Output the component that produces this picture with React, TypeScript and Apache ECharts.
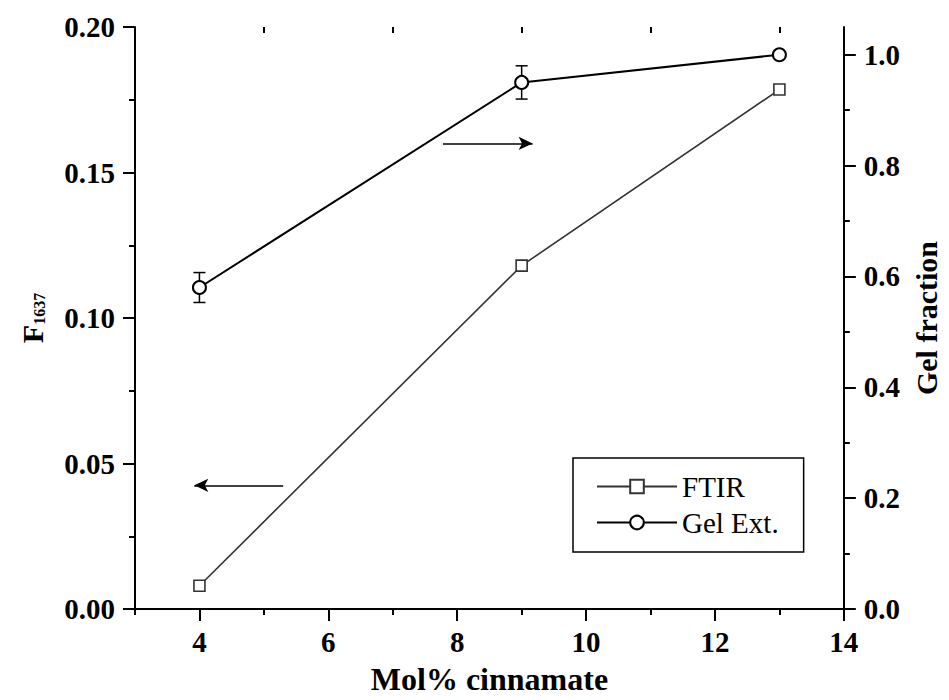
import React, { useEffect, useRef } from "react";
import * as echarts from "echarts";

const ftirX = [4, 9, 13];
const ftirY = [0.008, 0.118, 0.1785];
const gelX = [4, 9, 13];
const gelY = [0.58, 0.95, 1.0];
const gelErr = [0.027, 0.03, 0];
const xMajor = [4, 6, 8, 10, 12, 14];
const xMinor = [3, 5, 7, 9, 11, 13];
const rightMajor = [0, 0.2, 0.4, 0.6, 0.8, 1.0];
const rightMinor = [0.1, 0.3, 0.5, 0.7, 0.9];
const arrowRight = [[7.78, 0.16], [9.17, 0.16]];
const arrowLeft = [[5.3, 0.0425], [3.92, 0.0425]];

const FONT = "'Liberation Serif', 'Times New Roman', serif";

export default function App() {
  const ref = useRef<HTMLDivElement>(null);
  useEffect(() => {
    if (!ref.current) return;
    document.body.style.margin = "0";
    const chart = echarts.init(ref.current, null, { renderer: "svg" });
    const axisLine = { show: true, lineStyle: { color: "#000", width: 2 } };
    const labelStyle = { fontFamily: FONT, fontWeight: "bold", fontSize: 29, color: "#000" };
    const baseX = { type: "value", min: 3, max: 14, splitLine: { show: false } };
    const option: any = {
      animation: false,
      backgroundColor: "#fff",
      grid: { left: 135, right: 95, top: 27, bottom: 88, containLabel: false },
      xAxis: [
        {
          ...baseX,
          position: "bottom",
          axisLine,
          axisTick: { show: true, customValues: xMajor, length: 12, lineStyle: { width: 2, color: "#000" } },
          axisLabel: { ...labelStyle, customValues: xMajor, margin: 18 },
          name: "Mol% cinnamate",
          nameLocation: "middle",
          nameGap: 54,
          nameTextStyle: { fontFamily: FONT, fontWeight: "bold", fontSize: 32, color: "#000" },
        },
        {
          ...baseX,
          position: "bottom",
          axisLine: { show: false },
          axisTick: { show: true, customValues: xMinor, length: 6, lineStyle: { width: 2, color: "#000" } },
          axisLabel: { show: false },
        },
        {
          ...baseX,
          position: "top",
          axisLine,
          axisTick: { show: true, inside: true, customValues: xMajor, length: 12, lineStyle: { width: 2, color: "#000" } },
          axisLabel: { show: false },
        },
        {
          ...baseX,
          position: "top",
          axisLine: { show: false },
          axisTick: { show: true, inside: true, customValues: xMinor, length: 6, lineStyle: { width: 2, color: "#000" } },
          axisLabel: { show: false },
        },
      ],
      yAxis: [
        {
          type: "value",
          position: "left",
          min: 0,
          max: 0.2,
          interval: 0.05,
          splitLine: { show: false },
          axisLine,
          axisTick: { show: true, length: 12, lineStyle: { width: 2, color: "#000" } },
          minorTick: { show: true, splitNumber: 2, length: 6, lineStyle: { width: 2, color: "#000" } },
          axisLabel: { ...labelStyle, margin: 20, formatter: (v: number) => v.toFixed(2) },
          name: "{a|F}{b|1637}",
          nameLocation: "middle",
          nameRotate: 90,
          nameGap: 88,
          nameTextStyle: {
            rich: {
              a: { fontFamily: FONT, fontWeight: "bold", fontSize: 30, color: "#000" },
              b: { fontFamily: FONT, fontWeight: "bold", fontSize: 16, color: "#000", padding: [14, 0, 0, 0] },
            },
          },
        },
        {
          type: "value",
          position: "right",
          min: 0,
          max: 1.05,
          splitLine: { show: false },
          axisLine,
          axisTick: { show: true, customValues: rightMajor, length: 12, lineStyle: { width: 2, color: "#000" } },
          axisLabel: { ...labelStyle, customValues: rightMajor, margin: 20, formatter: (v: number) => v.toFixed(1) },
          name: "Gel fraction",
          nameLocation: "middle",
          nameRotate: 90,
          nameGap: 64,
          nameTextStyle: { fontFamily: FONT, fontWeight: "bold", fontSize: 30, color: "#000" },
        },
        {
          type: "value",
          position: "right",
          min: 0,
          max: 1.05,
          splitLine: { show: false },
          axisLine: { show: false },
          axisTick: { show: true, customValues: rightMinor, length: 6, lineStyle: { width: 2, color: "#000" } },
          axisLabel: { show: false },
        },
      ],
      legend: {
        left: 573,
        top: 458,
        orient: "vertical",
        data: ["FTIR", "Gel Ext."],
        itemWidth: 80,
        itemHeight: 17,
        itemGap: 7,
        padding: [14, 25, 15, 23],
        borderColor: "#000",
        borderWidth: 1.5,
        borderRadius: 0,
        textStyle: { fontFamily: FONT, fontSize: 29, color: "#000" },
      },
      series: [
        {
          name: "FTIR",
          type: "line",
          xAxisIndex: 0,
          yAxisIndex: 0,
          data: ftirX.map((x, i) => [x, ftirY[i]]),
          symbol: "rect",
          symbolSize: 11,
          lineStyle: { color: "#333", width: 1.6 },
          itemStyle: { color: "#fff", borderColor: "#333", borderWidth: 1.6 },
          z: 3,
          markLine: {
            silent: true,
            symbol: ["none", "arrow"],
            symbolSize: [10, 14],
            label: { show: false },
            lineStyle: { color: "#000", width: 1.5, type: "solid" },
            data: [
              [{ coord: arrowRight[0] }, { coord: arrowRight[1] }],
              [{ coord: arrowLeft[0] }, { coord: arrowLeft[1] }],
            ],
          },
        },
        {
          name: "Gel Ext.",
          type: "line",
          xAxisIndex: 0,
          yAxisIndex: 1,
          data: gelX.map((x, i) => [x, gelY[i]]),
          symbol: "circle",
          symbolSize: 13,
          lineStyle: { color: "#000", width: 2 },
          itemStyle: { color: "#fff", borderColor: "#000", borderWidth: 2 },
          z: 3,
        },
        {
          type: "custom",
          xAxisIndex: 0,
          yAxisIndex: 1,
          z: 1,
          data: gelX.map((x, i) => [x, gelY[i] - gelErr[i], gelY[i] + gelErr[i]]),
          encode: { x: 0, y: [1, 2] },
          renderItem: (params: any, api: any) => {
            const x = api.value(0);
            const lo = api.value(1);
            const hi = api.value(2);
            if (hi - lo <= 0) return null;
            const p1 = api.coord([x, lo]);
            const p2 = api.coord([x, hi]);
            const w = 6;
            const st = { stroke: "#000", lineWidth: 1.5 };
            return {
              type: "group",
              children: [
                { type: "line", shape: { x1: p1[0], y1: p1[1], x2: p2[0], y2: p2[1] }, style: st },
                { type: "line", shape: { x1: p1[0] - w, y1: p1[1], x2: p1[0] + w, y2: p1[1] }, style: st },
                { type: "line", shape: { x1: p2[0] - w, y1: p2[1], x2: p2[0] + w, y2: p2[1] }, style: st },
              ],
            };
          },
        },
      ],
    };
    chart.setOption(option);
    return () => chart.dispose();
  }, []);
  return <div ref={ref} style={{ width: 949, height: 700 }} />;
}
